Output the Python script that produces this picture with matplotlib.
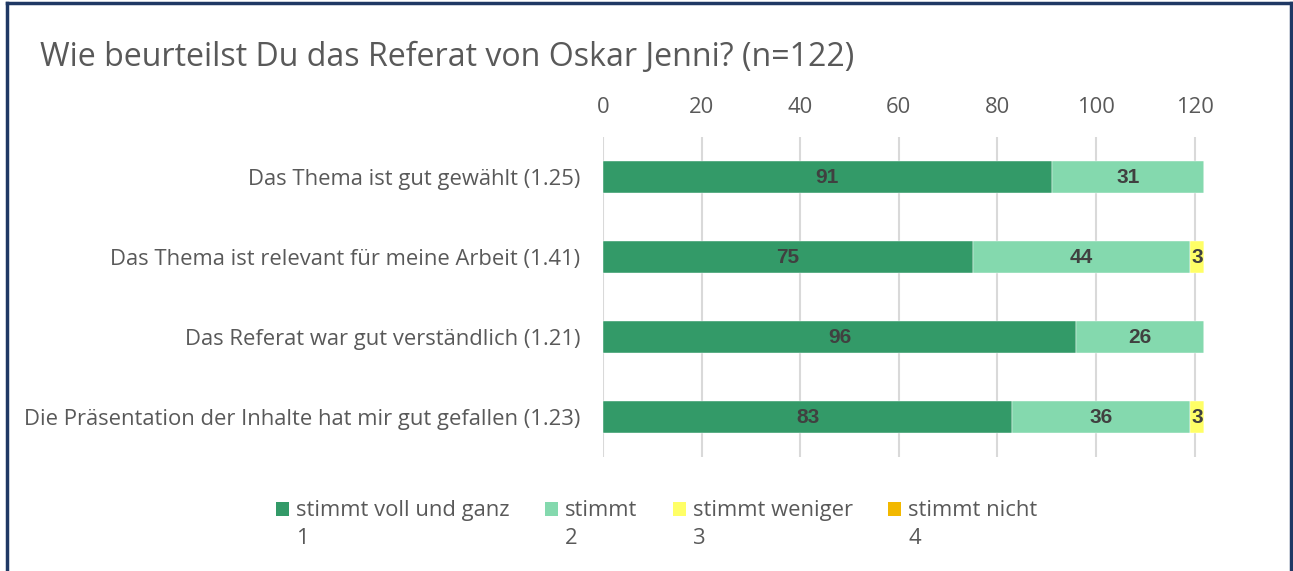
import matplotlib.pyplot as plt
from matplotlib.patches import Patch, Rectangle
from matplotlib.legend_handler import HandlerPatch

# Data
categories = ["Das Thema ist gut gewählt (1.25)",
              "Das Thema ist relevant für meine Arbeit (1.41)",
              "Das Referat war gut verständlich (1.21)",
              "Die Präsentation der Inhalte hat mir gut gefallen (1.23)"]
series_names = ["stimmt voll und ganz\n1", "stimmt\n2", "stimmt weniger\n3", "stimmt nicht\n4"]
voll = [91, 75, 96, 83]
stimmt = [31, 44, 26, 36]
weniger = [0, 3, 0, 3]
nicht = [0, 0, 0, 0]
xticks = [0, 20, 40, 60, 80, 100, 120]

colors = ["#339A68", "#84D9AE", "#FFFF66", "#F2B800"]
txt = "#595959"
fs = 15.8
ls = 1.45

plt.rcParams['font.family'] = ['Open Sans', 'DejaVu Sans']

fig = plt.figure(figsize=(12.93, 5.71), dpi=100)
ax = fig.add_axes([0.4664, 0.1996, 0.4651, 0.5604])

y = list(range(len(categories)))
left = [0] * len(categories)
for vals, col in zip([voll, stimmt, weniger, nicht], colors):
    bars = ax.barh(y, vals, left=left, height=0.4, color=col, zorder=3,
                   edgecolor="white", linewidth=0.3)
    for b, v in zip(bars, vals):
        if v > 0:
            ax.text(b.get_x() + b.get_width() / 2, b.get_y() + b.get_height() / 2, str(v),
                    ha="center", va="center", fontsize=15, fontweight="bold",
                    family="Liberation Sans", color="#404040", zorder=4)
    left = [l + v for l, v in zip(left, vals)]

ax.set_xlim(0, 122)
ax.set_ylim(3.5, -0.5)
ax.set_xticks(xticks)
ax.xaxis.tick_top()
ax.tick_params(axis="x", length=0, pad=14, labelsize=fs, labelcolor=txt)
ax.set_yticks(y)
ax.set_yticklabels(categories)
ax.tick_params(axis="y", length=0, pad=16.5, labelsize=fs, labelcolor=txt)
ax.grid(axis="x", color="#D9D9D9", linewidth=1.5, zorder=0)
for s in ax.spines.values():
    s.set_visible(False)

fig.text(0.031, 0.9, "Wie beurteilst Du das Referat von Oskar Jenni? (n=122)",
         fontsize=23.1, color=txt, ha="left", va="center")


# legend square next to the first line of a two-line label
def first_line(legend, orig_handle, xdescent, ydescent, width, height, fontsize):
    return Rectangle((-xdescent, -ydescent + fontsize * 0.74), width, height)


handles = [Patch(facecolor=c, edgecolor="none") for c in colors]
leg = fig.legend(handles, series_names, loc="center", bbox_to_anchor=(0.508, 0.081),
                 ncol=4, frameon=False, fontsize=fs, handlelength=0.6, handleheight=0.6,
                 handletextpad=0.32, columnspacing=1.6, labelcolor=txt,
                 handler_map={Patch: HandlerPatch(patch_func=first_line)})
for t in leg.get_texts():
    t.set_linespacing(ls)

# outer frame (no bottom edge)
fig.add_artist(plt.Line2D([0.0054, 0.0054], [0, 0.9948], color="#1F3864", linewidth=2.5))
fig.add_artist(plt.Line2D([0.0054, 0.9985], [0.9948, 0.9948], color="#1F3864", linewidth=2.5))
fig.add_artist(plt.Line2D([0.9985, 0.9985], [0, 0.9948], color="#1F3864", linewidth=2.5))

fig.savefig("out.png", dpi=100)
